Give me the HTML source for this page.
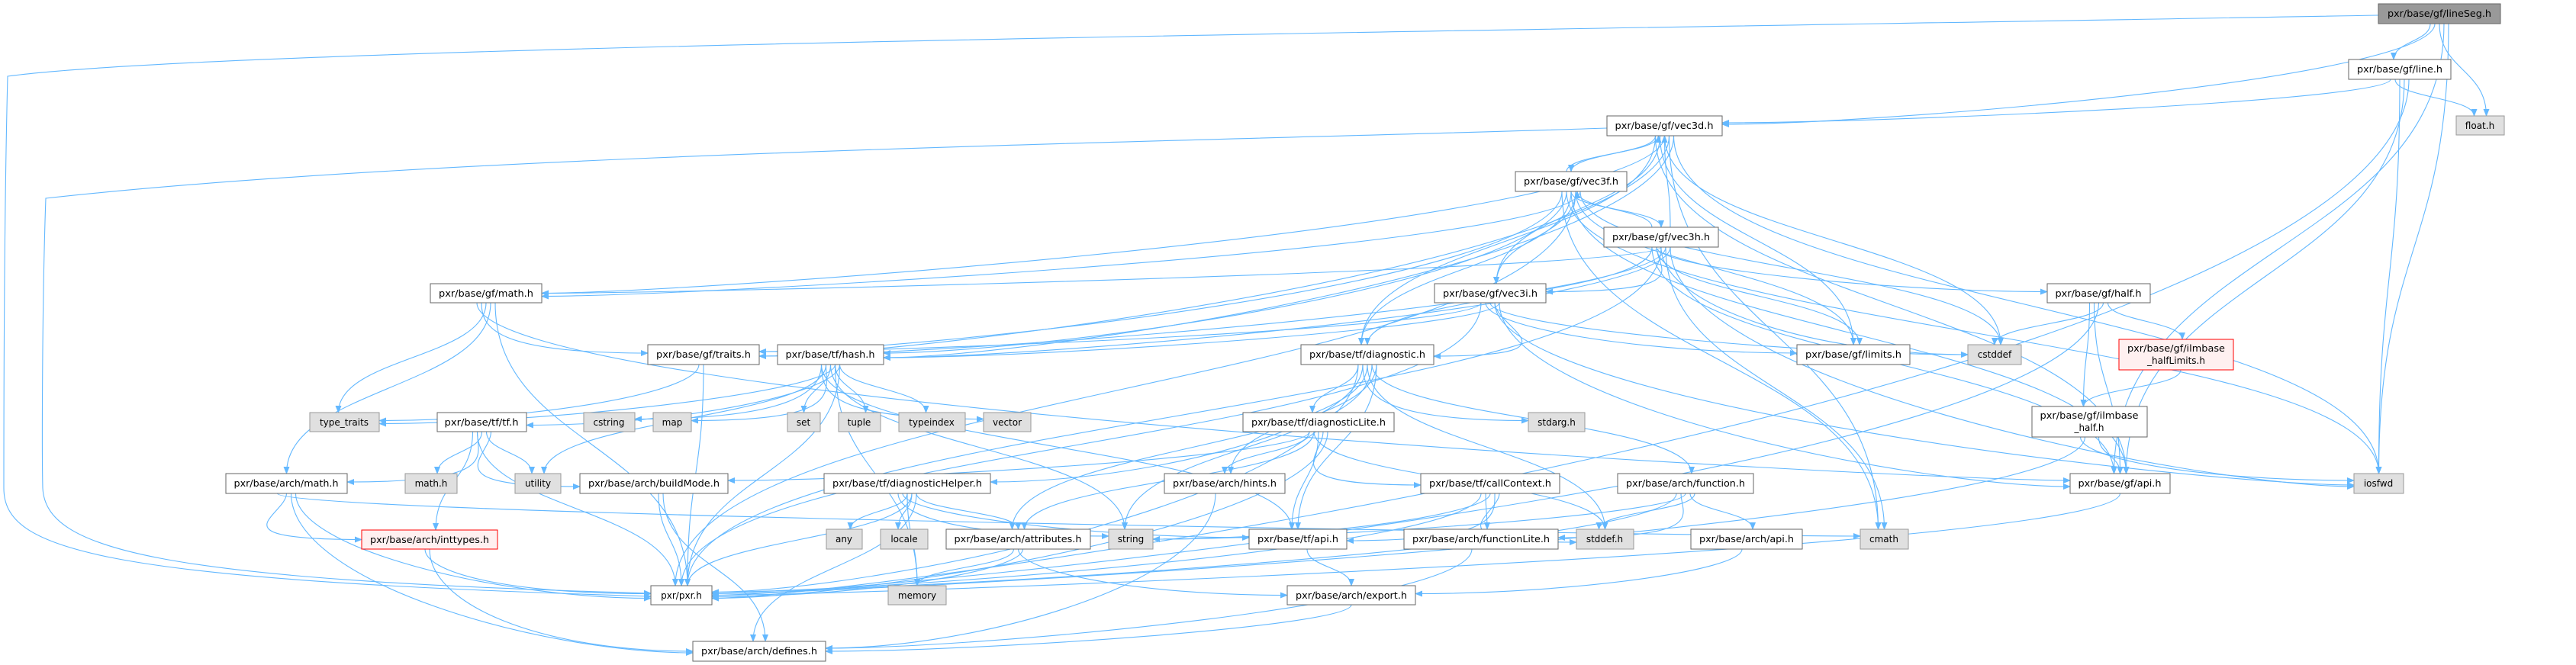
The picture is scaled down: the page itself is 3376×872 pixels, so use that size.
<!DOCTYPE html>
<html><head><meta charset="utf-8"><style>
html,body{margin:0;padding:0;background:#fff;}
svg{display:block;}
text{font-family:"DejaVu Sans","Liberation Sans",sans-serif;font-size:12px;fill:#000;}
</style></head><body>
<svg id="g" width="3376" height="872" viewBox="0 0 3376 872" xmlns="http://www.w3.org/2000/svg">
<defs><marker id="a" markerWidth="10" markerHeight="8" refX="9" refY="4" orient="auto" markerUnits="userSpaceOnUse"><path d="M0,0 L10,4 L0,8 z" fill="#63b8ff"/></marker></defs>
<g id="edges" fill="none" stroke="#63b8ff" stroke-width="1.1">
<path d="M3117,20 C2000,40 300,60 10,100 C5,300 5,600 5,640 C5,720 120,760 853,782" marker-end="url(#a)"/>
<path d="M2106,168 C1600,185 600,200 60,260 C55,400 55,600 56,640 C60,720 200,760 853,778" marker-end="url(#a)"/>
</g>
<g stroke-width="1">
<rect id="lineSeg" x="3117" y="5" width="160" height="26" fill="#999" stroke="#666"/><text x="3197" y="22" text-anchor="middle" textLength="136" lengthAdjust="spacingAndGlyphs">pxr/base/gf/lineSeg.h</text>
<rect id="line" x="3078" y="78" width="134" height="26" fill="#fff" stroke="#666"/><text x="3145" y="95" text-anchor="middle" textLength="112" lengthAdjust="spacingAndGlyphs">pxr/base/gf/line.h</text>
<rect id="float" x="3219" y="152" width="63" height="25" fill="#e0e0e0" stroke="#999"/><text x="3250" y="169" text-anchor="middle">float.h</text>
<rect id="vec3d" x="2106" y="152" width="151" height="26" fill="#fff" stroke="#666"/><text x="2181" y="169" text-anchor="middle" textLength="129" lengthAdjust="spacingAndGlyphs">pxr/base/gf/vec3d.h</text>
<rect id="vec3f" x="1986" y="225" width="146" height="26" fill="#fff" stroke="#666"/><text x="2059" y="242" text-anchor="middle" textLength="124" lengthAdjust="spacingAndGlyphs">pxr/base/gf/vec3f.h</text>
<rect id="vec3h" x="2102" y="298" width="150" height="26" fill="#fff" stroke="#666"/><text x="2177" y="315" text-anchor="middle" textLength="128" lengthAdjust="spacingAndGlyphs">pxr/base/gf/vec3h.h</text>
<rect id="vec3i" x="1880" y="372" width="146" height="25" fill="#fff" stroke="#666"/><text x="1953" y="389" text-anchor="middle" textLength="124" lengthAdjust="spacingAndGlyphs">pxr/base/gf/vec3i.h</text>
<rect id="math" x="564" y="372" width="146" height="25" fill="#fff" stroke="#666"/><text x="637" y="389" text-anchor="middle" textLength="124" lengthAdjust="spacingAndGlyphs">pxr/base/gf/math.h</text>
<rect id="half" x="2683" y="372" width="135" height="25" fill="#fff" stroke="#666"/><text x="2750" y="389" text-anchor="middle" textLength="113" lengthAdjust="spacingAndGlyphs">pxr/base/gf/half.h</text>
<rect id="hash" x="1019" y="452" width="139" height="26" fill="#fff" stroke="#666"/><text x="1088" y="469" text-anchor="middle" textLength="117" lengthAdjust="spacingAndGlyphs">pxr/base/tf/hash.h</text>
<rect id="traits" x="849" y="452" width="146" height="26" fill="#fff" stroke="#666"/><text x="922" y="469" text-anchor="middle" textLength="124" lengthAdjust="spacingAndGlyphs">pxr/base/gf/traits.h</text>
<rect id="diag" x="1705" y="452" width="174" height="26" fill="#fff" stroke="#666"/><text x="1792" y="469" text-anchor="middle" textLength="152" lengthAdjust="spacingAndGlyphs">pxr/base/tf/diagnostic.h</text>
<rect id="limits" x="2355" y="452" width="148" height="26" fill="#fff" stroke="#666"/><text x="2429" y="469" text-anchor="middle" textLength="126" lengthAdjust="spacingAndGlyphs">pxr/base/gf/limits.h</text>
<rect id="cstddef" x="2579" y="452" width="70" height="26" fill="#e0e0e0" stroke="#999"/><text x="2614" y="469" text-anchor="middle">cstddef</text>
<rect id="hlim" x="2777" y="445" width="150" height="40" fill="#fff0f0" stroke="#f00"/><text x="2852" y="461" text-anchor="middle" textLength="128" lengthAdjust="spacingAndGlyphs">pxr/base/gf/ilmbase</text><text x="2852" y="477" text-anchor="middle">_halfLimits.h</text>
<rect id="tt" x="406" y="541" width="91" height="25" fill="#e0e0e0" stroke="#999"/><text x="451" y="558" text-anchor="middle">type_traits</text>
<rect id="tf" x="573" y="541" width="117" height="25" fill="#fff" stroke="#666"/><text x="631" y="558" text-anchor="middle" textLength="97" lengthAdjust="spacingAndGlyphs">pxr/base/tf/tf.h</text>
<rect id="cstring" x="765" y="541" width="67" height="25" fill="#e0e0e0" stroke="#999"/><text x="798" y="558" text-anchor="middle">cstring</text>
<rect id="map" x="856" y="541" width="50" height="25" fill="#e0e0e0" stroke="#999"/><text x="881" y="558" text-anchor="middle">map</text>
<rect id="set" x="1032" y="541" width="43" height="25" fill="#e0e0e0" stroke="#999"/><text x="1053" y="558" text-anchor="middle">set</text>
<rect id="tuple" x="1099" y="541" width="55" height="25" fill="#e0e0e0" stroke="#999"/><text x="1126" y="558" text-anchor="middle">tuple</text>
<rect id="typeindex" x="1178" y="541" width="87" height="25" fill="#e0e0e0" stroke="#999"/><text x="1221" y="558" text-anchor="middle">typeindex</text>
<rect id="vector" x="1289" y="541" width="62" height="25" fill="#e0e0e0" stroke="#999"/><text x="1320" y="558" text-anchor="middle">vector</text>
<rect id="dlite" x="1629" y="541" width="198" height="25" fill="#fff" stroke="#666"/><text x="1728" y="558" text-anchor="middle" textLength="176" lengthAdjust="spacingAndGlyphs">pxr/base/tf/diagnosticLite.h</text>
<rect id="stdarg" x="2003" y="541" width="74" height="25" fill="#e0e0e0" stroke="#999"/><text x="2040" y="558" text-anchor="middle">stdarg.h</text>
<rect id="ihalf" x="2663" y="533" width="151" height="40" fill="#fff" stroke="#666"/><text x="2738" y="549" text-anchor="middle" textLength="129" lengthAdjust="spacingAndGlyphs">pxr/base/gf/ilmbase</text><text x="2738" y="565" text-anchor="middle">_half.h</text>
<rect id="amath" x="296" y="621" width="159" height="26" fill="#fff" stroke="#666"/><text x="375" y="638" text-anchor="middle" textLength="137" lengthAdjust="spacingAndGlyphs">pxr/base/arch/math.h</text>
<rect id="mathh" x="531" y="621" width="68" height="26" fill="#e0e0e0" stroke="#999"/><text x="565" y="638" text-anchor="middle">math.h</text>
<rect id="utility" x="675" y="621" width="60" height="26" fill="#e0e0e0" stroke="#999"/><text x="705" y="638" text-anchor="middle">utility</text>
<rect id="build" x="760" y="621" width="194" height="26" fill="#fff" stroke="#666"/><text x="857" y="638" text-anchor="middle" textLength="172" lengthAdjust="spacingAndGlyphs">pxr/base/arch/buildMode.h</text>
<rect id="dhelp" x="1080" y="621" width="218" height="26" fill="#fff" stroke="#666"/><text x="1189" y="638" text-anchor="middle" textLength="196" lengthAdjust="spacingAndGlyphs">pxr/base/tf/diagnosticHelper.h</text>
<rect id="hints" x="1526" y="621" width="158" height="26" fill="#fff" stroke="#666"/><text x="1605" y="638" text-anchor="middle" textLength="136" lengthAdjust="spacingAndGlyphs">pxr/base/arch/hints.h</text>
<rect id="callc" x="1862" y="621" width="182" height="26" fill="#fff" stroke="#666"/><text x="1953" y="638" text-anchor="middle" textLength="160" lengthAdjust="spacingAndGlyphs">pxr/base/tf/callContext.h</text>
<rect id="func" x="2120" y="621" width="178" height="26" fill="#fff" stroke="#666"/><text x="2209" y="638" text-anchor="middle" textLength="156" lengthAdjust="spacingAndGlyphs">pxr/base/arch/function.h</text>
<rect id="gfapi" x="2713" y="621" width="131" height="26" fill="#fff" stroke="#666"/><text x="2778" y="638" text-anchor="middle" textLength="109" lengthAdjust="spacingAndGlyphs">pxr/base/gf/api.h</text>
<rect id="iosfwd" x="3085" y="621" width="65" height="26" fill="#e0e0e0" stroke="#999"/><text x="3117" y="638" text-anchor="middle">iosfwd</text>
<rect id="inttypes" x="474" y="695" width="178" height="25" fill="#fff0f0" stroke="#f00"/><text x="563" y="712" text-anchor="middle" textLength="156" lengthAdjust="spacingAndGlyphs">pxr/base/arch/inttypes.h</text>
<rect id="any" x="1083" y="694" width="47" height="26" fill="#e0e0e0" stroke="#999"/><text x="1106" y="711" text-anchor="middle">any</text>
<rect id="locale" x="1154" y="694" width="62" height="26" fill="#e0e0e0" stroke="#999"/><text x="1185" y="711" text-anchor="middle">locale</text>
<rect id="attr" x="1240" y="694" width="189" height="26" fill="#fff" stroke="#666"/><text x="1334" y="711" text-anchor="middle" textLength="167" lengthAdjust="spacingAndGlyphs">pxr/base/arch/attributes.h</text>
<rect id="string" x="1453" y="694" width="58" height="26" fill="#e0e0e0" stroke="#999"/><text x="1482" y="711" text-anchor="middle">string</text>
<rect id="tfapi" x="1637" y="694" width="128" height="26" fill="#fff" stroke="#666"/><text x="1701" y="711" text-anchor="middle" textLength="106" lengthAdjust="spacingAndGlyphs">pxr/base/tf/api.h</text>
<rect id="flite" x="1840" y="694" width="202" height="26" fill="#fff" stroke="#666"/><text x="1941" y="711" text-anchor="middle" textLength="180" lengthAdjust="spacingAndGlyphs">pxr/base/arch/functionLite.h</text>
<rect id="stddef" x="2066" y="694" width="75" height="26" fill="#e0e0e0" stroke="#999"/><text x="2103" y="711" text-anchor="middle">stddef.h</text>
<rect id="aapi" x="2216" y="694" width="146" height="26" fill="#fff" stroke="#666"/><text x="2289" y="711" text-anchor="middle" textLength="124" lengthAdjust="spacingAndGlyphs">pxr/base/arch/api.h</text>
<rect id="cmath" x="2438" y="694" width="63" height="26" fill="#e0e0e0" stroke="#999"/><text x="2469" y="711" text-anchor="middle">cmath</text>
<rect id="memory" x="1164" y="768" width="76" height="25" fill="#e0e0e0" stroke="#999"/><text x="1202" y="785" text-anchor="middle">memory</text>
<rect id="pxr" x="853" y="768" width="80" height="25" fill="#fff" stroke="#666"/><text x="893" y="785" text-anchor="middle">pxr/pxr.h</text>
<rect id="export" x="1687" y="768" width="168" height="25" fill="#fff" stroke="#666"/><text x="1771" y="785" text-anchor="middle" textLength="146" lengthAdjust="spacingAndGlyphs">pxr/base/arch/export.h</text>
<rect id="defines" x="908" y="841" width="174" height="26" fill="#fff" stroke="#666"/><text x="995" y="858" text-anchor="middle" textLength="152" lengthAdjust="spacingAndGlyphs">pxr/base/arch/defines.h</text>
</g>
</svg>
<script>
(function(){
var E="lineSeg line,lineSeg vec3d,lineSeg float,lineSeg gfapi,lineSeg iosfwd,line vec3d,line float,line iosfwd,line gfapi,line pxr,"+
"vec3d vec3f,vec3d vec3i,vec3d math,vec3d traits,vec3d hash,vec3d diag,vec3d limits,vec3d cstddef,vec3d cmath,vec3d iosfwd,vec3d gfapi,"+
"vec3f vec3d,vec3f vec3h,vec3f vec3i,vec3f math,vec3f traits,vec3f hash,vec3f diag,vec3f limits,vec3f cstddef,vec3f cmath,vec3f iosfwd,vec3f gfapi,vec3f pxr,"+
"vec3h vec3d,vec3h vec3f,vec3h vec3i,vec3h math,vec3h traits,vec3h hash,vec3h diag,vec3h limits,vec3h cstddef,vec3h cmath,vec3h iosfwd,vec3h gfapi,vec3h half,vec3h pxr,"+
"vec3i diag,vec3i hash,vec3i traits,vec3i limits,vec3i cstddef,vec3i iosfwd,vec3i gfapi,vec3i pxr,"+
"math traits,math tt,math amath,math pxr,math gfapi,traits tt,traits pxr,"+
"hash tt,hash tf,hash cstring,hash map,hash set,hash tuple,hash typeindex,hash vector,hash utility,hash string,hash memory,hash pxr,hash tfapi,"+
"tf amath,tf mathh,tf utility,tf build,tf inttypes,tf pxr,amath inttypes,amath defines,amath pxr,amath cmath,inttypes pxr,inttypes defines,build pxr,build defines,"+
"diag dlite,diag dhelp,diag hints,diag string,diag tfapi,diag pxr,diag stdarg,diag stddef,diag func,diag attr,"+
"dlite hints,dlite attr,dlite tfapi,dlite callc,dlite pxr,dlite build,dlite stddef,"+
"dhelp any,dhelp locale,dhelp attr,dhelp string,dhelp tfapi,dhelp memory,dhelp pxr,dhelp defines,hints defines,"+
"callc flite,callc string,callc tfapi,callc stddef,callc pxr,attr memory,attr export,attr pxr,tfapi export,flite defines,"+
"func flite,func string,func aapi,func stddef,func pxr,aapi export,export defines,"+
"half cstddef,half hlim,half ihalf,half gfapi,half pxr,hlim ihalf,ihalf gfapi,ihalf iosfwd,ihalf pxr,gfapi pxr";
function R(id){var r=document.getElementById(id);return{x:+r.getAttribute('x'),y:+r.getAttribute('y'),w:+r.getAttribute('width'),h:+r.getAttribute('height')};}
var g=document.getElementById('edges'),ns="http://www.w3.org/2000/svg";
E.split(',').forEach(function(e,i){var p=e.split(' ');var s=R(p[0]),t=R(p[1]);
var sx=s.x+s.w/2+((i%5)-2)*6,tx=t.x+t.w/2+((i%3)-1)*8,d,sy,ty,m;
if(t.y>s.y+s.h){sy=s.y+s.h;ty=t.y;
 var dx=tx-sx,dy=ty-sy;
 if(Math.abs(dx)>3*dy){var left=dx>0;var ex=left?t.x:t.x+t.w;var ey=t.y+t.h/2+((i%5)-2)*2;
  d="M"+sx+","+sy+" C"+sx+","+(sy+dy*0.6)+" "+(left?ex-200:ex+200)+","+ey+" "+ex+","+ey;}
 else{m=(sy+ty)/2;d="M"+sx+","+sy+" C"+sx+","+m+" "+tx+","+m+" "+tx+","+ty;}}
else if(t.y+t.h<s.y){sy=s.y;ty=t.y+t.h;m=(sy+ty)/2;d="M"+sx+","+sy+" C"+sx+","+m+" "+tx+","+m+" "+tx+","+ty;}
else{var l=t.x>s.x;sy=s.y+s.h/2;ty=t.y+t.h/2;sx=l?s.x+s.w:s.x;tx=l?t.x:t.x+t.w;m=(sx+tx)/2;d="M"+sx+","+sy+" C"+m+","+sy+" "+m+","+ty+" "+tx+","+ty;}
var el=document.createElementNS(ns,'path');el.setAttribute('d',d);el.setAttribute('marker-end','url(#a)');g.appendChild(el);});
})();
</script>
</body></html>
